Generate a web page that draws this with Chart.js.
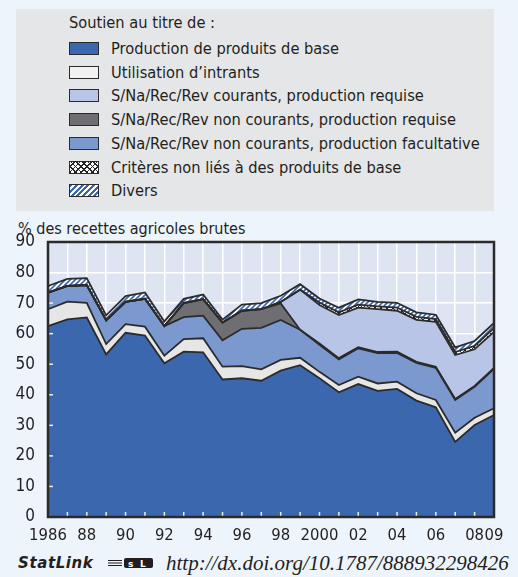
<!DOCTYPE html>
<html>
<head>
<meta charset="utf-8">
<script src="https://cdn.jsdelivr.net/npm/chart.js@4.4.1/dist/chart.umd.min.js"></script>
<style>
  body { margin: 0; width: 518px; height: 577px; overflow: hidden; position: relative;
         background: #edf4fc; color: #231f20;
         font-family: "Liberation Sans Narrow", "DejaVu Sans Condensed", sans-serif; }
  #legend { position: absolute; left: 16px; top: 9px; width: 478px; height: 202px; background: #e5e6e8; }
  #legend .title { position: absolute; left: 53px; top: 4px; font-size: 16.3px; line-height: 20px; }
  #legend .row { position: absolute; left: 53px; height: 20px; font-size: 16.3px; line-height: 20px; white-space: nowrap; }
  #legend .sw { position: absolute; left: 0; top: 3px; width: 28px; height: 11px; border: 1.5px solid #2b2b2b; }
  #legend .row span.txt { position: absolute; left: 42px; top: 0; }
  #ytitle { position: absolute; left: 18px; top: 219px; font-size: 16px; line-height: 20px; white-space: nowrap; }
  #chartBox { position: absolute; left: 0; top: 215px; width: 518px; height: 335px; }
  #statlink { position: absolute; left: 18px; top: 552px; height: 24px; white-space: nowrap; }
  #statlink .sl { position: absolute; left: 0; top: 2px; font-family: "DejaVu Sans", sans-serif; font-weight: bold; font-style: italic; font-size: 15px; letter-spacing: 0.6px; }
  #statlink .logo { position: absolute; left: 90px; top: 6px; width: 45px; height: 10px; }
  #statlink .url { position: absolute; left: 148px; top: -1px; font-family: "Liberation Serif", serif; font-style: italic; font-size: 21px; }
</style>
</head>
<body>
<div id="legend"><div class="title">Soutien au titre de :</div></div>
<div id="ytitle">% des recettes agricoles brutes</div>
<div id="chartBox"><canvas id="oecdChart" width="518" height="335"></canvas></div>
<div id="statlink">
  <span class="sl">StatLink</span>
  <svg class="logo" viewBox="0 0 45 10"><g fill="#231f20"><rect x="0" y="2" width="14" height="1"/><rect x="0" y="4.5" width="14" height="1"/><rect x="0" y="7" width="14" height="1"/><rect x="16" y="0" width="29" height="10" rx="2"/></g><text x="20" y="8.5" font-size="9" font-weight="bold" fill="#fff" font-family="DejaVu Sans">s</text><text x="32" y="8.5" font-size="9" font-weight="bold" fill="#fff" font-family="DejaVu Sans">L</text></svg>
  <span class="url">http://dx.doi.org/10.1787/888932298426</span>
</div>

<script>
// Années et étiquettes de l'axe
const years = ['1986','1987','1988','1989','1990','1991','1992','1993','1994','1995','1996','1997',
               '1998','1999','2000','2001','2002','2003','2004','2005','2006','2007','2008','2009'];
const xTickLabels = ['1986','','88','','90','','92','','94','','96','','98','','2000','','02','','04','','06','','08','09'];
const yTicks = [0, 10, 20, 30, 40, 50, 60, 70, 80, 90];

// % des recettes agricoles brutes
const produitsBase   = [62.5, 64.7, 65.3, 53.2, 60.3, 59.4, 50.3, 54.1, 53.9, 45.0, 45.4, 44.6, 47.9, 49.7, 45.4, 40.8, 43.5, 41.3, 41.9, 38.1, 35.9, 24.6, 30.1, 33.4];
const intrants       = [5.5, 5.8, 4.8, 3.4, 2.8, 2.9, 2.5, 4.1, 4.6, 4.2, 4.0, 3.7, 3.5, 2.4, 2.1, 2.4, 2.4, 2.4, 2.4, 2.4, 2.4, 3.0, 2.4, 2.2];
const ncFacultative  = [5.4, 5.1, 5.8, 7.8, 7.3, 9.1, 9.7, 7.2, 7.4, 8.6, 12.2, 13.6, 13.1, 9.2, 8.9, 8.4, 9.3, 9.9, 9.4, 9.9, 10.5, 10.7, 10.1, 12.9];
const ncRequise      = [0, 0, 0, 0, 0, 0, 0, 4.6, 5.4, 5.8, 5.9, 6.1, 5.4, 0, 0.4, 0.4, 0.4, 0.4, 0.4, 0.4, 0.4, 0.3, 0.3, 0.3];
const courRequise    = [0, 0, 0, 0, 0, 0, 0, 0, 0, 0, 0, 0, 0.5, 13.1, 12.6, 14.1, 12.9, 14.0, 13.4, 13.7, 14.7, 14.4, 12.0, 11.8];
const nonProduits    = [0, 0, 0, 0, 0, 0, 0, 0, 0, 0, 0, 0, 0, 0, 0.8, 0.9, 1.0, 0.9, 1.0, 1.0, 0.9, 1.0, 1.1, 1.2];
const divers         = [2.2, 2.3, 2.3, 1.6, 1.9, 2.1, 1.5, 1.4, 1.5, 1.0, 2.0, 2.0, 2.0, 1.8, 1.3, 1.5, 1.7, 1.5, 1.6, 1.5, 1.4, 1.5, 1.6, 1.7];

const labels = {
  base: 'Production de produits de base',
  intr: 'Utilisation d\u2019intrants',
  cr:   'S/Na/Rec/Rev courants, production requise',
  ncr:  'S/Na/Rec/Rev non courants, production requise',
  ncf:  'S/Na/Rec/Rev non courants, production facultative',
  crit: 'Critères non liés à des produits de base',
  div:  'Divers'
};
const legendOrder = ['base', 'intr', 'cr', 'ncr', 'ncf', 'crit', 'div'];

const colors = {
  base: '#3a67ae', intr: '#e6e6e6', cr: '#b8c5e6', ncr: '#6f6f73', ncf: '#7b98cf'
};
const edge = '#2b2b2b';
const tickFont = '"Liberation Sans Narrow", "DejaVu Sans Condensed", sans-serif';

// motifs
function hatchPattern() {
  const c = document.createElement('canvas'); c.width = 5; c.height = 5;
  const g = c.getContext('2d');
  g.fillStyle = '#fff'; g.fillRect(0, 0, 5, 5);
  g.strokeStyle = '#3a67ae'; g.lineWidth = 1.6;
  g.beginPath(); g.moveTo(-1, 6); g.lineTo(6, -1); g.moveTo(-1, 1); g.lineTo(1, -1); g.moveTo(4, 6); g.lineTo(6, 4); g.stroke();
  return g.createPattern(c, 'repeat');
}
function crossPattern() {
  const c = document.createElement('canvas'); c.width = 6; c.height = 6;
  const g = c.getContext('2d');
  g.fillStyle = '#fff'; g.fillRect(0, 0, 6, 6);
  g.strokeStyle = '#222'; g.lineWidth = 1;
  g.beginPath(); g.moveTo(0, 0); g.lineTo(6, 6); g.moveTo(6, 0); g.lineTo(0, 6); g.stroke();
  return g.createPattern(c, 'repeat');
}

// légende
const swatchCss = {
  base: 'background:#3a67ae', intr: 'background:#f2f2f2', cr: 'background:#b8c5e6',
  ncr: 'background:#6f6f73', ncf: 'background:#7b98cf',
  crit: 'background:repeating-linear-gradient(45deg,#222 0 1px,transparent 1px 4px),repeating-linear-gradient(-45deg,#222 0 1px,#fff 1px 4px)',
  div: 'background:repeating-linear-gradient(135deg,#3a67ae 0 2px,#fff 2px 4px)'
};
const legendBox = document.getElementById('legend');
legendOrder.forEach((k, i) => {
  const row = document.createElement('div');
  row.className = 'row';
  row.style.top = (30 + i * 23.7) + 'px';
  row.innerHTML = '<div class="sw" style="' + swatchCss[k] + '"></div><span class="txt">' + labels[k] + '</span>';
  legendBox.appendChild(row);
});

const frame = {
  id: 'frame',
  beforeDraw(chart) {
    const { ctx, chartArea: a } = chart;
    ctx.save();
    ctx.fillStyle = '#dee4f2';
    ctx.fillRect(a.left, a.top, a.right - a.left, a.bottom - a.top);
    ctx.restore();
  },
  afterDatasetsDraw(chart) {
    const { ctx, chartArea: a, scales: { x, y } } = chart;
    ctx.save();
    ctx.strokeStyle = 'rgba(255,255,255,0.9)';
    ctx.lineWidth = 1.5;
    years.forEach((yr, i) => {
      const px = x.getPixelForValue(i);
      ctx.beginPath(); ctx.moveTo(px, a.bottom); ctx.lineTo(px, a.bottom - 5); ctx.stroke();
    });
    yTicks.forEach(v => {
      const py = y.getPixelForValue(v);
      ctx.beginPath(); ctx.moveTo(a.left, py); ctx.lineTo(a.left + 5, py); ctx.stroke();
    });
    ctx.strokeStyle = edge;
    ctx.lineWidth = 2.5;
    ctx.strokeRect(a.left, a.top, a.right - a.left, a.bottom - a.top);
    ctx.restore();
  }
};

function serie(data, fill, bg) {
  return { data: data, fill: fill, backgroundColor: bg, borderColor: edge, borderWidth: 1.8,
           pointRadius: 0, tension: 0, borderJoinStyle: 'miter' };
}

new Chart(document.getElementById('oecdChart'), {
  type: 'line',
  data: {
    labels: years,
    datasets: [
      Object.assign(serie(produitsBase, 'origin', colors.base), { label: labels.base }),
      Object.assign(serie(intrants, '-1', colors.intr), { label: labels.intr }),
      Object.assign(serie(ncFacultative, '-1', colors.ncf), { label: labels.ncf }),
      Object.assign(serie(ncRequise, '-1', colors.ncr), { label: labels.ncr }),
      Object.assign(serie(courRequise, '-1', colors.cr), { label: labels.cr }),
      Object.assign(serie(nonProduits, '-1', crossPattern()), { label: labels.crit }),
      Object.assign(serie(divers, '-1', hatchPattern()), { label: labels.div })
    ]
  },
  options: {
    responsive: false,
    animation: false,
    layout: { padding: { top: 27, right: 24, left: 0, bottom: 0 } },
    plugins: { legend: { display: false }, tooltip: { enabled: false }, filler: { drawTime: 'beforeDatasetsDraw' } },
    scales: {
      x: {
        offset: false,
        grid: { color: '#ffffff', lineWidth: 1.5, drawTicks: false },
        border: { display: false },
        ticks: {
          autoSkip: false, maxRotation: 0, padding: 9, color: '#231f20',
          font: { family: tickFont, size: 16.5 },
          callback: (v, i) => xTickLabels[i]
        },
        afterFit: s => { s.height = 33; }
      },
      y: {
        stacked: true, min: 0, max: 90,
        grid: { color: '#ffffff', lineWidth: 1.5, drawTicks: false },
        border: { display: false },
        ticks: {
          stepSize: 10, padding: 13, color: '#231f20',
          font: { family: tickFont, size: 17 }
        },
        afterFit: s => { s.width = 48; }
      }
    }
  },
  plugins: [frame]
});
</script>
</body>
</html>
